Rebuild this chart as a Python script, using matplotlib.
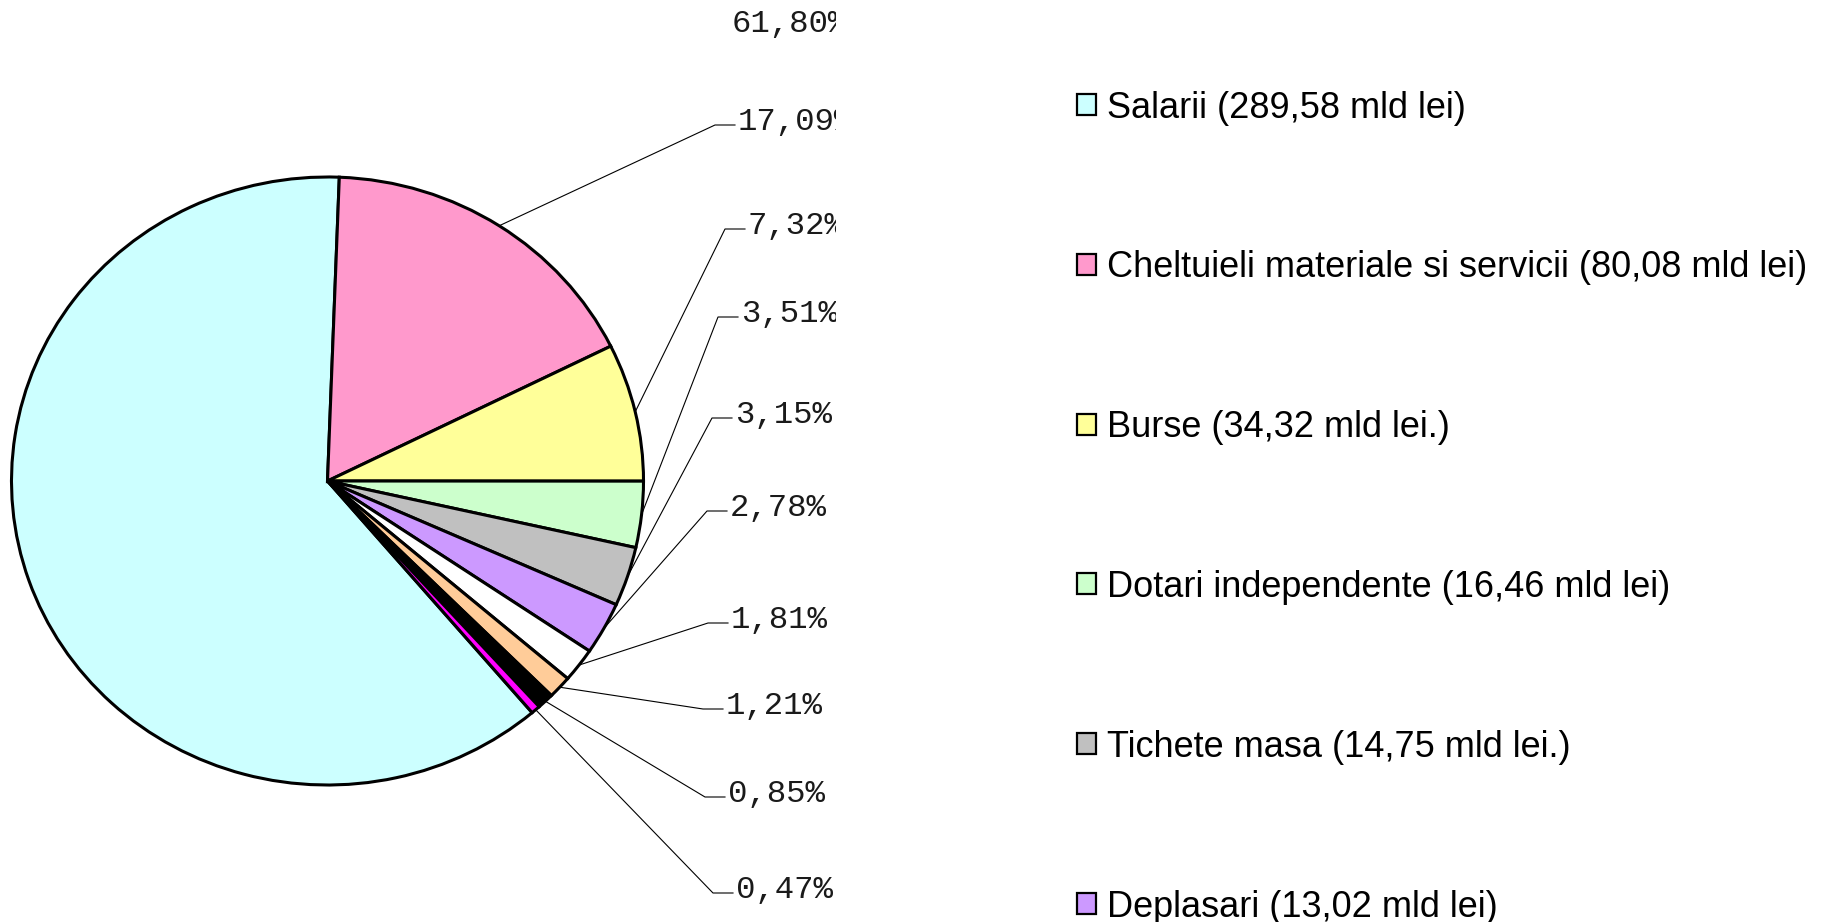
import matplotlib.pyplot as plt
from matplotlib.patches import Rectangle
import numpy as np

# shares of the budget (%), in drawing order, starting with Salarii
shares = [61.80, 17.09, 7.32, 3.51, 3.15, 2.78, 1.81, 1.21, 0.85, 0.47]
share_labels = ["61,80%", "17,09%", "7,32%", "3,51%", "3,15%",
                "2,78%", "1,81%", "1,21%", "0,85%", "0,47%"]
colors = ["#CCFFFF", "#FF99CC", "#FFFF99", "#CCFFCC", "#C0C0C0",
          "#CC99FF", "#FFFFFF", "#FFCC99", "#000000", "#FF00FF"]
# only the first entries of the legend fit in the picture
legend_labels = ["Salarii (289,58 mld lei)",
                 "Cheltuieli materiale si servicii (80,08 mld lei)",
                 "Burse (34,32 mld lei.)",
                 "Dotari independente (16,46 mld lei)",
                 "Tichete masa (14,75 mld lei.)",
                 "Deplasari (13,02 mld lei)"]

W, H = 1824, 922
fig = plt.figure(figsize=(W / 100, H / 100), dpi=100)

# pie box in pixels (the pie is a bit wider than tall)
cx, cy, rx, ry = 327.5, 481, 316, 304
ax = fig.add_axes([(cx - rx) / W, (H - cy - ry) / H, 2 * rx / W, 2 * ry / H])
wedges, _ = ax.pie(shares, colors=colors, startangle=310.36, counterclock=False,
                   wedgeprops=dict(edgecolor="black", linewidth=2.2, clip_on=False))
ax.set_aspect("auto")
ax.set_xlim(-1, 1)
ax.set_ylim(-1, 1)
ax.axis("off")

# label area, clipped on the right like the original
clip_w = 836
ov = fig.add_axes([0, 0, clip_w / W, 1])
ov.set_xlim(0, clip_w)
ov.set_ylim(H, 0)
ov.axis("off")

# elbow x and line y of each leader, in pixels
label_pos = [(None, 23), (715, 125), (725, 229), (718, 317), (712, 418),
             (707, 511), (708, 623), (703, 709), (705, 797), (713, 893)]

mono = dict(family="Liberation Mono", fontsize=23.3, color="#1a1a1a",
            va="baseline", ha="left", clip_on=True)
to_ov = ov.transData.inverted()
for i, (w, lab) in enumerate(zip(wedges, share_labels)):
    ex, ly = label_pos[i]
    if ex is None:
        ov.text(732, ly + 9, lab, **mono)
        continue
    mid = np.deg2rad((w.theta1 + w.theta2) / 2)
    px, py = to_ov.transform(ax.transData.transform((np.cos(mid), np.sin(mid))))
    ov.plot([px, ex, ex + 20], [py, ly, ly], color="black", lw=0.8)
    ov.text(ex + 23, ly + 5, lab, **mono)

# legend
lg = fig.add_axes([0, 0, 1, 1], zorder=-1)
lg.set_xlim(0, W)
lg.set_ylim(H, 0)
lg.axis("off")
for i, lab in enumerate(legend_labels):
    y = 104.5 + i * 159.8
    lg.add_patch(Rectangle((1077, y - 10.5), 19, 21, facecolor=colors[i],
                           edgecolor="black", lw=1.6))
    lg.text(1107, y + 13, lab, family="Liberation Sans", fontsize=26,
            va="baseline", ha="left")

fig.savefig("out.png", dpi=100)
